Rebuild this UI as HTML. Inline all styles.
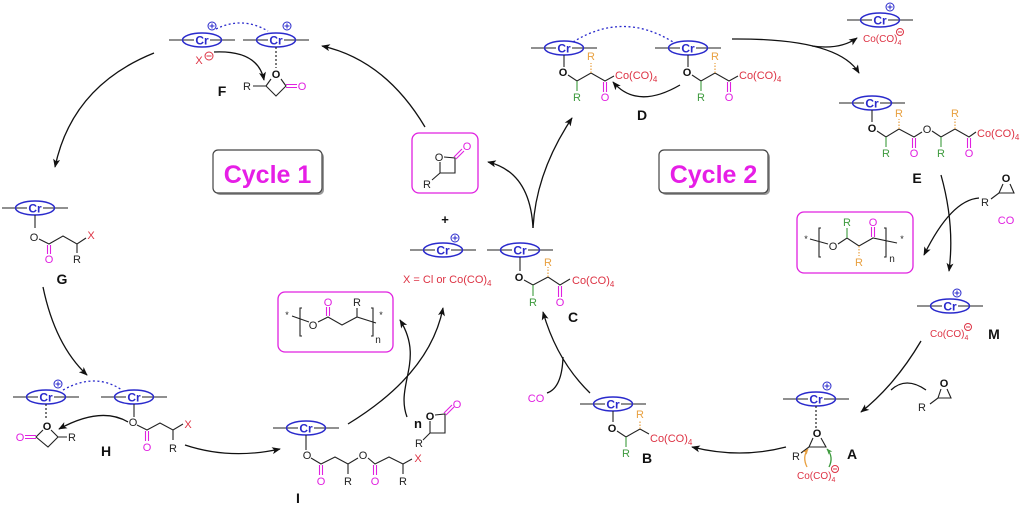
<!DOCTYPE html>
<html><head><meta charset="utf-8"><style>
html,body{margin:0;padding:0;background:#fff}
svg{display:block}
text{font-family:"Liberation Sans",Arial,sans-serif}
.k{stroke:#222;stroke-width:1.1;fill:none}
.dt{stroke:#222;stroke-width:1.2;fill:none;stroke-dasharray:2 2}
.mg{stroke:#e020e0;stroke-width:1.1;fill:none}
.gr{stroke:#3d9a3d;stroke-width:1.1;fill:none}
.or{stroke:#e8a040;stroke-width:1.2;fill:none;stroke-dasharray:1.5 1.5}
.ar{stroke:#111;stroke-width:1.3;fill:none;marker-end:url(#ah)}
.ln{stroke:#111;stroke-width:1.3;fill:none}
.a{font-size:11px;text-anchor:middle;fill:#222}
.ab{font-size:11px;font-weight:bold;text-anchor:middle;fill:#111}
.tm{fill:#e020e0}.tr{fill:#dd3344}.tg{fill:#3d9a3d}.to{fill:#e8a040}
.lb{font-size:14px;font-weight:bold;text-anchor:middle;fill:#111}
.co{font-size:11px;fill:#dd3344}
.co2{font-size:10px;fill:#dd3344}
.cr{font-size:12px;font-weight:bold;text-anchor:middle;fill:#2a2acc}
.bl{stroke:#2a2acc;stroke-width:1.5;fill:none}
.bd{stroke:#2a2acc;stroke-width:1.3;fill:none;stroke-dasharray:2 2.5}
.pc{stroke:#2a2acc;stroke-width:1;fill:#fff}
.mc{stroke:#dd3344;stroke-width:1;fill:#fff}
.box{stroke:#e020e0;stroke-width:1.3;fill:none}
.cyc{font-size:25px;font-weight:bold;text-anchor:middle;fill:#e61ee6}
</style></head><body>
<svg xmlns="http://www.w3.org/2000/svg" width="1024" height="510" viewBox="0 0 1024 510">
<defs>
<marker id="ah" viewBox="0 0 10 8" refX="9" refY="4" markerWidth="9" markerHeight="7" markerUnits="userSpaceOnUse" orient="auto"><path d="M0,0L10,4L0,8L2.5,4z" fill="#111"/></marker>
<marker id="aho" viewBox="0 0 10 8" refX="9" refY="4" markerWidth="6" markerHeight="5" markerUnits="userSpaceOnUse" orient="auto"><path d="M0,0L10,4L0,8L2.5,4z" fill="#e8a040"/></marker>
<marker id="ahg" viewBox="0 0 10 8" refX="9" refY="4" markerWidth="6" markerHeight="5" markerUnits="userSpaceOnUse" orient="auto"><path d="M0,0L10,4L0,8L2.5,4z" fill="#3d9a3d"/></marker>
</defs>
<rect width="1024" height="510" fill="#fff"/>

<!-- Cycle boxes -->
<rect x="215" y="152" width="109" height="43" rx="5" fill="#999"/>
<rect x="213" y="150" width="109" height="43" rx="5" fill="#fff" stroke="#444" stroke-width="1.2"/>
<text class="cyc" x="267.5" y="183">Cycle 1</text>
<rect x="661" y="152" width="109" height="43" rx="5" fill="#999"/>
<rect x="659" y="150" width="109" height="43" rx="5" fill="#fff" stroke="#444" stroke-width="1.2"/>
<text class="cyc" x="713.5" y="183">Cycle 2</text>

<!-- Cr units -->
<g transform="translate(202,40)"><path class="k" d="M-33,0H-8M8,0H33"/><ellipse class="bl" rx="19.5" ry="7"/><text class="cr" y="4.3">Cr</text></g>
<g transform="translate(276,40)"><path class="k" d="M-33,0H-8M8,0H33"/><ellipse class="bl" rx="19.5" ry="7"/><text class="cr" y="4.3">Cr</text></g>
<g transform="translate(564,48)"><path class="k" d="M-33,0H-8M8,0H33"/><ellipse class="bl" rx="19.5" ry="7"/><text class="cr" y="4.3">Cr</text></g>
<g transform="translate(688,48)"><path class="k" d="M-33,0H-8M8,0H33"/><ellipse class="bl" rx="19.5" ry="7"/><text class="cr" y="4.3">Cr</text></g>
<g transform="translate(880,20)"><path class="k" d="M-33,0H-8M8,0H33"/><ellipse class="bl" rx="19.5" ry="7"/><text class="cr" y="4.3">Cr</text></g>
<g transform="translate(872,103)"><path class="k" d="M-33,0H-8M8,0H33"/><ellipse class="bl" rx="19.5" ry="7"/><text class="cr" y="4.3">Cr</text></g>
<g transform="translate(950,306)"><path class="k" d="M-33,0H-8M8,0H33"/><ellipse class="bl" rx="19.5" ry="7"/><text class="cr" y="4.3">Cr</text></g>
<g transform="translate(816,399)"><path class="k" d="M-33,0H-8M8,0H33"/><ellipse class="bl" rx="19.5" ry="7"/><text class="cr" y="4.3">Cr</text></g>
<g transform="translate(613,404)"><path class="k" d="M-33,0H-8M8,0H33"/><ellipse class="bl" rx="19.5" ry="7"/><text class="cr" y="4.3">Cr</text></g>
<g transform="translate(520,250)"><path class="k" d="M-33,0H-8M8,0H33"/><ellipse class="bl" rx="19.5" ry="7"/><text class="cr" y="4.3">Cr</text></g>
<g transform="translate(443,250)"><path class="k" d="M-33,0H-8M8,0H33"/><ellipse class="bl" rx="19.5" ry="7"/><text class="cr" y="4.3">Cr</text></g>
<g transform="translate(306,428)"><path class="k" d="M-33,0H-8M8,0H33"/><ellipse class="bl" rx="19.5" ry="7"/><text class="cr" y="4.3">Cr</text></g>
<g transform="translate(46,397)"><path class="k" d="M-33,0H-8M8,0H33"/><ellipse class="bl" rx="19.5" ry="7"/><text class="cr" y="4.3">Cr</text></g>
<g transform="translate(134,397)"><path class="k" d="M-33,0H-8M8,0H33"/><ellipse class="bl" rx="19.5" ry="7"/><text class="cr" y="4.3">Cr</text></g>
<g transform="translate(35,208)"><path class="k" d="M-33,0H-8M8,0H33"/><ellipse class="bl" rx="19.5" ry="7"/><text class="cr" y="4.3">Cr</text></g>

<!-- plus circles -->
<g transform="translate(212,26)"><circle class="pc" r="4"/><path class="bl" style="stroke-width:1" d="M-2.5,0H2.5M0,-2.5V2.5"/></g>
<g transform="translate(287,26)"><circle class="pc" r="4"/><path class="bl" style="stroke-width:1" d="M-2.5,0H2.5M0,-2.5V2.5"/></g>
<g transform="translate(890,7)"><circle class="pc" r="4"/><path class="bl" style="stroke-width:1" d="M-2.5,0H2.5M0,-2.5V2.5"/></g>
<g transform="translate(957,293)"><circle class="pc" r="4"/><path class="bl" style="stroke-width:1" d="M-2.5,0H2.5M0,-2.5V2.5"/></g>
<g transform="translate(827,386)"><circle class="pc" r="4"/><path class="bl" style="stroke-width:1" d="M-2.5,0H2.5M0,-2.5V2.5"/></g>
<g transform="translate(455,238)"><circle class="pc" r="4"/><path class="bl" style="stroke-width:1" d="M-2.5,0H2.5M0,-2.5V2.5"/></g>
<g transform="translate(58,384)"><circle class="pc" r="4"/><path class="bl" style="stroke-width:1" d="M-2.5,0H2.5M0,-2.5V2.5"/></g>

<!-- ===== F ===== -->
<path class="bd" d="M216,29 Q242,16 268,31"/>
<path class="dt" d="M276,47V68"/>
<text class="ab" x="276" y="78">O</text>
<path class="k" d="M271,79L266,86L276,96L286,86L281,79M253,86H266"/>
<path class="mg" d="M286,84.5H297M286,87.5H297"/>
<text class="a tm" x="302" y="90">O</text>
<text class="a" x="247" y="90">R</text>
<text class="lb" x="222" y="96">F</text>
<text class="a tr" x="199" y="64">X</text>
<g transform="translate(209,56)"><circle class="mc" r="4"/><path stroke="#dd3344" d="M-2.5,0H2.5"/></g>

<!-- ===== G ===== -->
<path class="k" d="M35,215V228"/>
<text class="a" x="34" y="241">O</text>
<path class="k" d="M39,239L49,244L63,236L77,244L86,238M77,244V253"/>
<path class="mg" d="M47.5,245V254M50.5,245V254"/>
<text class="a tm" x="49" y="263">O</text>
<text class="a" x="77" y="263">R</text>
<text class="a tr" x="91" y="239">X</text>
<text class="lb" x="62" y="284">G</text>

<!-- ===== H ===== -->
<path class="bd" d="M63,390 Q95,372 122,390"/>
<path class="dt" d="M46,404V420"/>
<text class="ab" x="47" y="430">O</text>
<path class="k" d="M51,430L58,437L48,447L36,437L43,430M58,437H67"/>
<path class="mg" d="M36,435.5H25M36,438.5H25"/>
<text class="a tm" x="20" y="441">O</text>
<text class="a" x="72" y="441">R</text>
<path class="k" d="M134,404V417"/>
<text class="a" x="133" y="426">O</text>
<path class="k" d="M137,425L147,430L160,423L173,430L183,424M173,430V440"/>
<path class="mg" d="M145.5,431V441M148.5,431V441"/>
<text class="a tm" x="147" y="451">O</text>
<text class="a" x="173" y="452">R</text>
<text class="a tr" x="188" y="428">X</text>
<text class="lb" x="106" y="456">H</text>

<!-- ===== I ===== -->
<path class="k" d="M306,435V450"/>
<text class="a" x="307" y="459">O</text>
<path class="k" d="M311,458L321,464L335,457L348,464L358,458M368,458L375,464L389,457L403,464L412,459M348,464V474M403,464V474"/>
<text class="a" x="363" y="459">O</text>
<path class="mg" d="M319.5,465V475M322.5,465V475M373.5,465V475M376.5,465V475"/>
<text class="a tm" x="321" y="485">O</text>
<text class="a tm" x="375" y="485">O</text>
<text class="a" x="348" y="485">R</text>
<text class="a" x="403" y="485">R</text>
<text class="a tr" x="418" y="462">X</text>
<text class="lb" x="298" y="503">I</text>

<!-- n lactone -->
<text class="lb" x="418" y="428" style="font-size:13px">n</text>
<text class="ab" x="430" y="420">O</text>
<path class="k" d="M435,415L445,414V433H430V421M430,433L423,440"/>
<path class="mg" d="M446,415L454,407M444,413L452,405"/>
<text class="a tm" x="457" y="408">O</text>
<text class="a" x="419" y="447">R</text>

<!-- polymer box 1 -->
<rect class="box" x="278" y="292" width="115" height="60" rx="7"/>
<text x="287" y="318" style="font-size:9px" text-anchor="middle" fill="#222">*</text>
<path class="k" d="M292,316L309,322M302,308H300V336H302M318,322L328,317L342,325L357,317L376,323M357,317V308M371,308H373V336H371"/>
<text class="a" x="313" y="329">O</text>
<path class="mg" d="M326.5,316V307M329.5,316V307"/>
<text class="a tm" x="328" y="306">O</text>
<text class="a" x="357" y="306">R</text>
<text x="378" y="343" style="font-size:10px" text-anchor="middle" fill="#222">n</text>
<text x="381" y="318" style="font-size:9px" text-anchor="middle" fill="#222">*</text>

<!-- lactone box -->
<rect class="box" x="412" y="133" width="66" height="60" rx="7"/>
<text class="a" x="439" y="161">O</text>
<path class="k" d="M444,157L455,158V173H440V162M440,173L432,180"/>
<path class="mg" d="M456,159L464,151M454,157L462,149"/>
<text class="a tm" x="467" y="150">O</text>
<text class="a" x="427" y="188">R</text>

<text x="445" y="224" style="font-size:13px;font-weight:bold" text-anchor="middle" fill="#111">+</text>
<text class="co" x="403" y="283">X = Cl or Co(CO)<tspan font-size="8" dy="3">4</tspan></text>

<!-- ===== C ===== -->
<path class="k" d="M520,257V271"/>
<text class="ab" x="519" y="281">O</text>
<path class="k" d="M524,280L533,285L548,277L560,285L570,279"/>
<path class="gr" d="M533,285V296"/>
<text class="a tg" x="533" y="306">R</text>
<path class="or" d="M548,277V267"/>
<text class="a to" x="548" y="266">R</text>
<path class="mg" d="M558.5,286V297M561.5,286V297"/>
<text class="a tm" x="560" y="306">O</text>
<text class="co" x="572" y="284">Co(CO)<tspan font-size="8" dy="3">4</tspan></text>
<text class="lb" x="573" y="322">C</text>

<!-- ===== B ===== -->
<path class="k" d="M613,411V422"/>
<text class="ab" x="612" y="432">O</text>
<path class="k" d="M617,431L626,437L640,429L649,434"/>
<path class="gr" d="M626,437V447"/>
<text class="a tg" x="626" y="457">R</text>
<path class="or" d="M640,429V420"/>
<text class="a to" x="640" y="418">R</text>
<text class="co" x="650" y="442">Co(CO)<tspan font-size="8" dy="3">4</tspan></text>
<text class="lb" x="647" y="463">B</text>
<text class="a tm" x="536" y="402">CO</text>

<!-- ===== A ===== -->
<path class="dt" d="M816,406V428"/>
<text class="ab" x="817" y="437">O</text>
<path class="k" d="M813,438L809,447H826L821,438M809,447L801,453"/>
<text class="a" x="796" y="460">R</text>
<text class="lb" x="852" y="459">A</text>
<text class="co2" x="797" y="479">Co(CO)<tspan font-size="7" dy="3">4</tspan></text>
<g transform="translate(835,469)"><circle class="mc" r="3.5"/><path stroke="#dd3344" d="M-2,0H2"/></g>
<path d="M807,467 Q802,457 808,449" stroke="#e8a040" stroke-width="1.3" fill="none" marker-end="url(#aho)"/>
<path d="M829,467 Q834,457 827,449" stroke="#3d9a3d" stroke-width="1.3" fill="none" marker-end="url(#ahg)"/>

<!-- epoxide near A -->
<text class="ab" x="944" y="387">O</text>
<path class="k" d="M941,389L938,398H951L947,389M938,398L930,404"/>
<text class="a" x="922" y="411">R</text>

<!-- ===== M ===== -->
<text class="co2" x="930" y="337">Co(CO)<tspan font-size="7" dy="3">4</tspan></text>
<g transform="translate(968,327)"><circle class="mc" r="3.5"/><path stroke="#dd3344" d="M-2,0H2"/></g>
<text class="lb" x="994" y="339">M</text>

<!-- top right free Cr -->
<text class="co2" x="863" y="42">Co(CO)<tspan font-size="7" dy="3">4</tspan></text>
<g transform="translate(900,32)"><circle class="mc" r="3.5"/><path stroke="#dd3344" d="M-2,0H2"/></g>

<!-- ===== D ===== -->
<path class="bd" d="M573,42 Q623,11 673,42"/>
<path class="k" d="M564,55V67M568,75L577,81L591,73L605,81L614,76"/>
<text class="ab" x="563" y="76">O</text>
<path class="gr" d="M577,81V91"/>
<text class="a tg" x="577" y="101">R</text>
<path class="or" d="M591,73V63"/>
<text class="a to" x="591" y="60">R</text>
<path class="mg" d="M603.5,82V92M606.5,82V92"/>
<text class="a tm" x="605" y="101">O</text>
<text class="co" x="615" y="79">Co(CO)<tspan font-size="8" dy="3">4</tspan></text>

<path class="k" d="M688,55V67M692,75L701,81L715,73L729,81L738,76"/>
<text class="ab" x="687" y="76">O</text>
<path class="gr" d="M701,81V91"/>
<text class="a tg" x="701" y="101">R</text>
<path class="or" d="M715,73V63"/>
<text class="a to" x="715" y="60">R</text>
<path class="mg" d="M727.5,82V92M730.5,82V92"/>
<text class="a tm" x="729" y="101">O</text>
<text class="co" x="739" y="79">Co(CO)<tspan font-size="8" dy="3">4</tspan></text>
<text class="lb" x="642" y="120">D</text>

<!-- ===== E ===== -->
<path class="k" d="M872,110V122M877,131L886,137L899,129L914,137L922,132M932,131L941,137L955,129L969,137L976,132"/>
<text class="ab" x="872" y="132">O</text>
<text class="a" x="927" y="133">O</text>
<path class="gr" d="M886,137V147M941,137V147"/>
<text class="a tg" x="886" y="157">R</text>
<text class="a tg" x="941" y="157">R</text>
<path class="or" d="M899,129V119M955,129V119"/>
<text class="a to" x="899" y="117">R</text>
<text class="a to" x="955" y="117">R</text>
<path class="mg" d="M912.5,138V148M915.5,138V148M967.5,138V148M970.5,138V148"/>
<text class="a tm" x="914" y="157">O</text>
<text class="a tm" x="969" y="157">O</text>
<text class="co" x="977" y="137">Co(CO)<tspan font-size="8" dy="3">4</tspan></text>
<text class="lb" x="917" y="183">E</text>

<!-- epoxide near E -->
<text class="ab" x="1006" y="182">O</text>
<path class="k" d="M1003,184L999,193H1014L1010,184M999,193L991,199"/>
<text class="a" x="985" y="206">R</text>
<text class="a tm" x="1006" y="224">CO</text>

<!-- polymer box 2 -->
<rect class="box" x="797" y="212" width="116" height="61" rx="7"/>
<text x="806" y="242" style="font-size:9px" text-anchor="middle" fill="#222">*</text>
<path class="k" d="M810,239L828,244M821,228H819V257H821M838,244L847,238L859,246L873,238L897,243M884,228H886V257H884"/>
<text class="a" x="833" y="250">O</text>
<path class="gr" d="M847,238V228"/>
<text class="a tg" x="847" y="226">R</text>
<path class="or" d="M859,246V256"/>
<text class="a to" x="859" y="266">R</text>
<path class="mg" d="M871.5,237V227M874.5,237V227"/>
<text class="a tm" x="873" y="226">O</text>
<text x="892" y="262" style="font-size:10px" text-anchor="middle" fill="#222">n</text>
<text x="902" y="242" style="font-size:9px" text-anchor="middle" fill="#222">*</text>

<!-- ===== Arrows ===== -->
<path class="ar" d="M154,53 Q72,86 55,167"/>
<path class="ar" d="M43,287 Q55,345 87,375"/>
<path class="ar" d="M128,422 Q101,406 59,429"/>
<path class="ar" d="M185,445 Q230,460 280,449"/>
<path class="ar" d="M348,424 Q430,374 443,308"/>
<path class="ar" d="M407,417 C395,385 425,360 400,320"/>
<path class="ar" d="M533,228 Q530,172 488,162"/>
<path class="ar" d="M533,228 Q536,172 572,118"/>
<path class="ar" d="M425,127 Q385,60 322,46"/>
<path class="ar" d="M214,52 Q258,50 264,80"/>
<path class="ar" d="M680,85 Q637,110 613,82"/>
<path class="ar" d="M732,39 Q838,38 859,73"/>
<path class="ar" d="M812,46 Q840,50 857,38"/>
<path class="ar" d="M941,175 Q955,225 949,271"/>
<path class="ar" d="M979,198 Q951,200 924,255"/>
<path class="ar" d="M921,341 Q895,385 861,412"/>
<path class="ln" d="M926,390 Q906,376 891,390"/>
<path class="ar" d="M786,447 Q740,459 692,447"/>
<path class="ar" d="M590,393 Q557,361 543,312"/>
<path class="ln" d="M547,393 Q562,388 563,357"/>
</svg>
</body></html>
